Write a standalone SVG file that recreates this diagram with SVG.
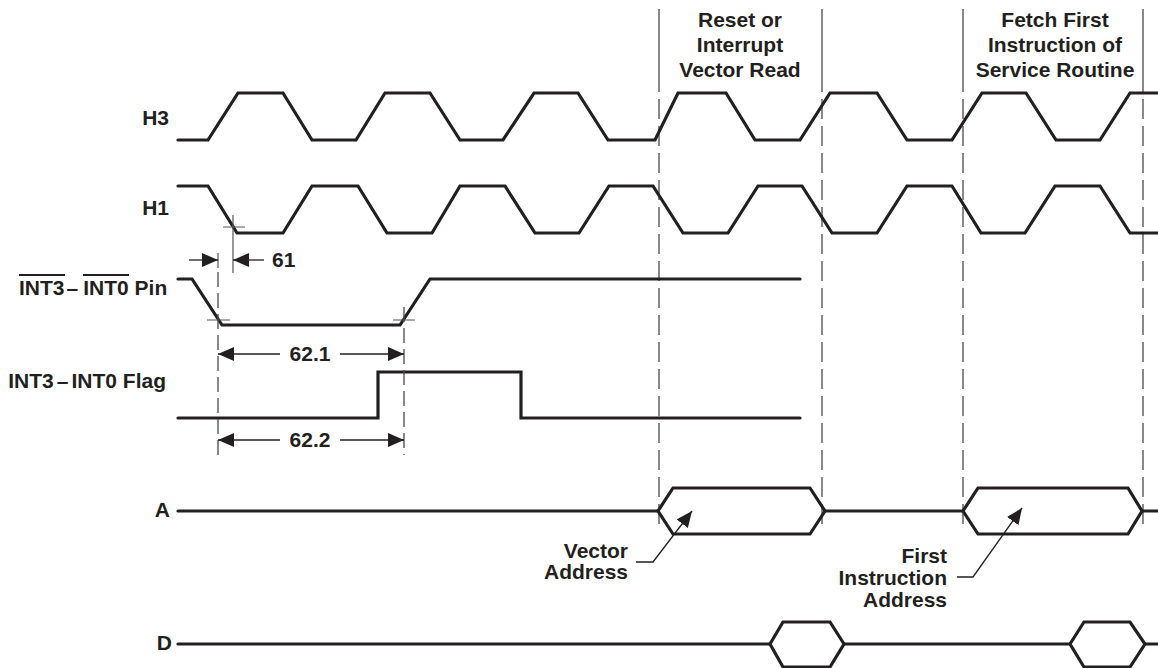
<svg xmlns="http://www.w3.org/2000/svg" width="1158" height="668" viewBox="0 0 1158 668">
<style>
.sig{fill:none;stroke:#231f20;stroke-width:3.2;stroke-linejoin:miter;stroke-linecap:round}
.lbl{font-family:"Liberation Sans",Arial,sans-serif;font-weight:bold;font-size:21px;fill:#231f20}
.dash{fill:none;stroke:#4a4a4a;stroke-width:1.3;stroke-dasharray:20 7}
.solid{fill:none;stroke:#4a4a4a;stroke-width:1.3}
.dim{fill:none;stroke:#231f20;stroke-width:1.3}
.tick{fill:none;stroke:#555;stroke-width:1.2}
.ovl{stroke:#231f20;stroke-width:2}
</style>
<defs>
<marker id="ah" viewBox="0 0 16 14" refX="16" refY="7" markerWidth="16" markerHeight="14" markerUnits="userSpaceOnUse" orient="auto"><path d="M0,0 L16,7 L0,14 z" fill="#231f20"/></marker>
</defs>

<g id="phase-lines">
<path class="solid" d="M659,9 V92 M822,9 V92 M963,9 V92 M1143,9 V92"/>
<path class="dash" d="M659,99 V525 M822,99 V525 M963,99 V525 M1143,99 V525"/>
</g>

<g id="phase-labels">
<text class="lbl" text-anchor="middle" x="740" y="27">Reset or</text>
<text class="lbl" text-anchor="middle" x="740" y="52">Interrupt</text>
<text class="lbl" text-anchor="middle" x="740" y="77">Vector Read</text>
<text class="lbl" text-anchor="middle" x="1055" y="27">Fetch First</text>
<text class="lbl" text-anchor="middle" x="1055" y="52">Instruction of</text>
<text class="lbl" text-anchor="middle" x="1055" y="77">Service Routine</text>
</g>

<g id="H3">
<text class="lbl" text-anchor="end" x="169" y="125">H3</text>
<path class="sig" d="M178,140 L208,140 L238,93 L283,93 L312,140 L356,140 L385,93 L430,93 L460,140 L503,140 L534,93 L578,93 L608,140 L655,140 L678,93 L726,93 L755,140 L800,140 L830,93 L877,93 L907,140 L952,140 L982,93 L1026,93 L1056,140 L1100,140 L1130,93 L1158,93"/>
</g>

<g id="H1">
<text class="lbl" text-anchor="end" x="169" y="215">H1</text>
<path class="sig" d="M178,186 L208,186 L237,233 L283,233 L312,186 L358,186 L387,233 L432,233 L460,186 L505,186 L535,233 L579,233 L609,186 L653,186 L683,233 L728,233 L758,186 L802,186 L832,233 L877,233 L907,186 L952,186 L981,233 L1025,233 L1055,186 L1100,186 L1130,233 L1158,233"/>
</g>

<g id="INT-pin">
<text class="lbl" x="19" y="295">INT3<tspan dx="2">–</tspan><tspan dx="5">INT0</tspan> Pin</text>
<line class="ovl" x1="19" y1="275" x2="65" y2="275"/>
<line class="ovl" x1="83" y1="275" x2="129" y2="275"/>
<path class="sig" d="M178,279 L192,279 L222,325 L400,325 L430,279 L800,279"/>
</g>

<g id="INT-flag">
<text class="lbl" text-anchor="end" x="166" y="388">INT3<tspan dx="3">–</tspan><tspan dx="3">INT0</tspan> Flag</text>
<path class="sig" d="M178,418 L378,418 L378,372 L521,372 L521,418 L800,418"/>
</g>

<g id="A">
<text class="lbl" text-anchor="end" x="170" y="517">A</text>
<path class="sig" d="M178,511 L658,511 M825,511 L963,511 M1142,511 L1158,511"/>
<path class="sig" d="M658,511 L673,488 L810,488 L825,511 L810,534 L673,534 Z"/>
<path class="sig" d="M963,511 L978,488 L1128,488 L1142,511 L1128,534 L978,534 Z"/>
</g>

<g id="D">
<text class="lbl" text-anchor="end" x="172" y="650">D</text>
<path class="sig" d="M178,644 L770,644 M844,644 L1070,644 M1145,644 L1158,644"/>
<path class="sig" d="M770,644 L783,622 L830,622 L844,644 L830,667 L783,667 Z"/>
<path class="sig" d="M1070,644 L1084,622 L1130,622 L1145,644 L1130,667 L1084,667 Z"/>
</g>

<g id="callout-vector">
<text class="lbl" text-anchor="end" x="628" y="558">Vector</text>
<text class="lbl" text-anchor="end" x="628" y="579">Address</text>
</g>

<g id="callout-first">
<text class="lbl" text-anchor="end" x="947" y="563">First</text>
<text class="lbl" text-anchor="end" x="947" y="585">Instruction</text>
<text class="lbl" text-anchor="end" x="947" y="607">Address</text>
</g>

<g id="timing-labels">
<text class="lbl" x="272" y="267">61</text>
<text class="lbl" text-anchor="middle" x="310" y="361">62.1</text>
<text class="lbl" text-anchor="middle" x="310" y="447">62.2</text>
</g>

<g id="connectors">
<path class="tick" d="M223,227 H245 M233,215 V273"/>
<path class="tick" d="M207,320 H230 M393,320 H415"/>
<path class="tick" d="M218,253 V268"/>
<path class="dash" style="stroke-dasharray:15 6" d="M218,272 V455"/>
<path class="dash" style="stroke-dasharray:15 6" d="M404,307 V455"/>
<path class="dim" marker-end="url(#ah)" d="M189,260 H218"/>
<path class="dim" marker-end="url(#ah)" d="M264,260 H233"/>
<path class="dim" marker-end="url(#ah)" d="M280,354 H218"/>
<path class="dim" marker-end="url(#ah)" d="M340,354 H404"/>
<path class="dim" marker-end="url(#ah)" d="M280,440 H218"/>
<path class="dim" marker-end="url(#ah)" d="M340,440 H404"/>
<path class="dim" marker-end="url(#ah)" d="M636,562 H653 L692,511"/>
<path class="dim" marker-end="url(#ah)" d="M957,577 H973 L1022,508"/>
</g>
</svg>
